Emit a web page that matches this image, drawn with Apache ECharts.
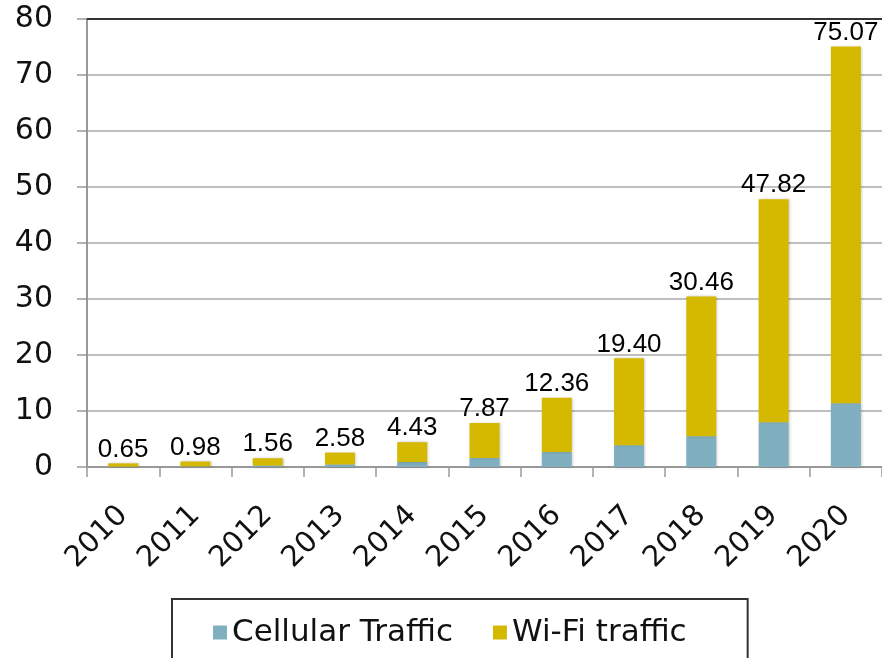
<!DOCTYPE html>
<html>
<head>
<meta charset="utf-8">
<script src="https://cdn.jsdelivr.net/npm/echarts@6/dist/echarts.min.js"></script>
<style>
  html, body { margin: 0; padding: 0; background: #fff; }
  #chartsDiv { width: 882px; height: 658px; }
</style>
</head>
<body>
<div id="chartsDiv"></div>
<script>
var years = ['2010', '2011', '2012', '2013', '2014', '2015', '2016', '2017', '2018', '2019', '2020'];
var cellular = [0.05, 0.1, 0.25, 0.45, 0.9, 1.6, 2.7, 3.9, 5.5, 8.0, 11.4];
var wifi = [0.60, 0.88, 1.31, 2.13, 3.53, 6.27, 9.66, 15.50, 24.96, 39.82, 63.67];
var totalLabels = ['0.65', '0.98', '1.56', '2.58', '4.43', '7.87', '12.36', '19.40', '30.46', '47.82', '75.07'];
var yTicks = [0, 10, 20, 30, 40, 50, 60, 70, 80];

var axisFont = 'DejaVu Sans';
var barShadow = {
  shadowBlur: 3,
  shadowColor: 'rgba(0,0,0,0.25)',
  shadowOffsetX: 1,
  shadowOffsetY: 0
};

var realChart = echarts.init(document.getElementById('chartsDiv'));
var option = {
  animation: false,
  grid: {
    left: 87,
    right: -8,
    top: 19,
    bottom: 191,
    containLabel: false
  },
  legend: {
    left: 172,
    top: 599,
    padding: [18, 61, 40, 41],
    itemGap: 40,
    itemWidth: 14,
    itemHeight: 14,
    icon: 'rect',
    borderColor: '#333',
    borderWidth: 2,
    borderRadius: 0,
    textStyle: {
      fontFamily: axisFont,
      fontSize: 31,
      color: '#111'
    },
    data: ['Cellular Traffic', 'Wi-Fi traffic']
  },
  xAxis: [{
    type: 'category',
    data: years,
    axisLine: {
      lineStyle: { color: '#999', width: 2 }
    },
    axisTick: {
      show: true,
      length: 10,
      lineStyle: { color: '#999', width: 1.5 }
    },
    axisLabel: {
      rotate: 45,
      margin: 44,
      fontFamily: axisFont,
      fontSize: 29,
      color: '#111'
    }
  }, {
    // 上边框线
    type: 'category',
    data: years,
    position: 'top',
    axisLine: {
      lineStyle: { color: '#333', width: 2 }
    },
    axisTick: { show: false },
    axisLabel: { show: false }
  }],
  yAxis: {
    type: 'value',
    min: yTicks[0],
    max: yTicks[yTicks.length - 1],
    interval: 10,
    axisLine: {
      show: true,
      lineStyle: { color: '#999', width: 2 }
    },
    axisTick: {
      show: true,
      length: 10,
      lineStyle: { color: '#999', width: 1.5 }
    },
    splitLine: {
      lineStyle: { color: '#aaa', width: 1.5 }
    },
    axisLabel: {
      margin: 34,
      fontFamily: axisFont,
      fontSize: 30,
      color: '#111'
    }
  },
  color: ['#80afbf', '#d4b900'],
  series: [{
    name: 'Cellular Traffic',
    type: 'bar',
    stack: 'total',
    barWidth: 30,
    itemStyle: barShadow,
    data: cellular
  }, {
    name: 'Wi-Fi traffic',
    type: 'bar',
    stack: 'total',
    barWidth: 30,
    itemStyle: barShadow,
    label: {
      show: true,
      position: 'top',
      distance: 1,
      fontFamily: 'Liberation Sans',
      fontSize: 26,
      color: '#000',
      formatter: function (p) {
        return totalLabels[p.dataIndex];
      }
    },
    data: wifi
  }]
};
realChart.setOption(option);
</script>
</body>
</html>
